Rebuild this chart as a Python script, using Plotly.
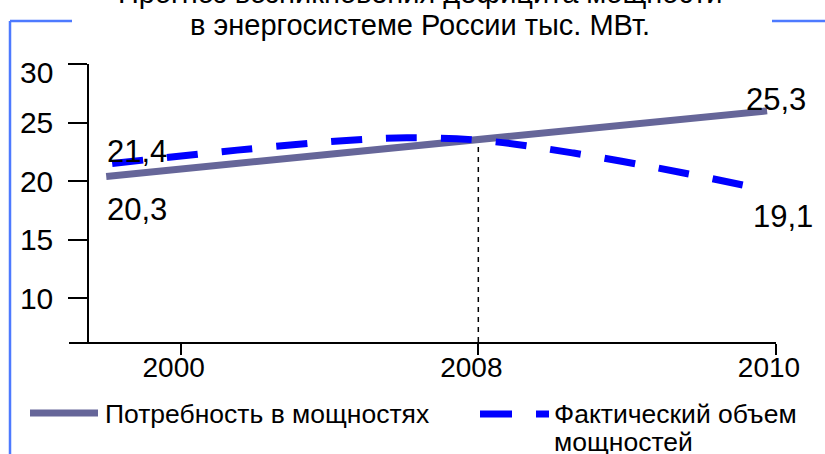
import plotly.graph_objects as go

# ---------------- data ----------------
x_ticks = [0, 1, 2]
x_tick_labels = ["2000", "2008", "2010"]
y_ticks = [10, 15, 20, 25, 30]
y_tick_labels = ["10", "15", "20", "25", ""]   # "30" drawn separately (sits lower)
y_top_label = "30"

demand_name = "Потребность в мощностях"
demand_pos = [-0.25, 1.97]
demand_val = [20.4, 26.0]

supply_name = "Фактический объем мощностей"
supply_pos = [-0.23, 0.19, 0.57, 0.76, 1.0, 1.32, 1.69, 1.92]
supply_val = [21.5, 22.65, 23.5, 23.7, 23.5, 22.4, 20.7, 19.5]

marker_pos = 1.0          # 2008
marker_val = 23.5

label_demand = ["20,3", "25,3"]
label_supply = ["21,4", "19,1"]

title_lines = ["Прогноз возникновения дефицита мощности",
               "в энергосистеме России тыс. МВт."]

# ---------------- layout helpers ----------------
W, H = 825, 454
ML, MR, MT, MB = 69, 49, 64, 112
PW, PH = W - ML - MR, H - MT - MB
Y_MIN, Y_MAX = 6.27, 30
X_MIN, X_MAX = -0.375, 2.0


def px_x(p):
    return (p - ML) / PW


def px_y(p):
    return (H - MB - p) / PH


FONT = "Liberation Sans, Arial, sans-serif"
DEMAND_COLOR = "#666699"
SUPPLY_COLOR = "#0000ff"
FRAME_COLOR = "#4d7aff"

fig = go.Figure()

fig.add_trace(go.Scatter(
    x=[marker_pos, marker_pos], y=[Y_MIN, marker_val], mode="lines",
    line=dict(color="black", width=1.5, dash="5px,5px"),
    showlegend=False, hoverinfo="skip"))

fig.add_trace(go.Scatter(
    x=demand_pos, y=demand_val, mode="lines", name=demand_name,
    line=dict(color=DEMAND_COLOR, width=7),
    showlegend=False))

fig.add_trace(go.Scatter(
    x=supply_pos, y=supply_val, mode="lines", name=supply_name,
    line=dict(color=SUPPLY_COLOR, width=7, dash="31px,24px", shape="spline"),
    showlegend=False))


def lab(**kw):
    d = dict(showarrow=False)
    d.update(kw)
    return d


annotations = []
# data labels
annotations.append(lab(x=demand_pos[0], y=demand_val[0], text=label_demand[0],
                       xanchor="left", yanchor="middle", xshift=-1, yshift=-33,
                       font=dict(size=31, color="black", family=FONT)))
annotations.append(lab(x=demand_pos[-1], y=demand_val[-1], text=label_demand[1],
                       xanchor="center", yanchor="middle", xshift=9, yshift=11,
                       font=dict(size=31, color="black", family=FONT)))
annotations.append(lab(x=supply_pos[0], y=supply_val[0], text=label_supply[0],
                       xanchor="left", yanchor="middle", xshift=-7, yshift=12,
                       font=dict(size=31, color="black", family=FONT)))
annotations.append(lab(x=supply_pos[-1], y=supply_val[-1], text=label_supply[1],
                       xanchor="center", yanchor="middle", xshift=31, yshift=-29,
                       font=dict(size=31, color="black", family=FONT)))

# top y tick label (sits below its tick in the reference)
annotations.append(lab(xref="paper", x=px_x(55), y=Y_MAX, text=y_top_label,
                       xanchor="right", yanchor="middle", yshift=-8,
                       font=dict(size=30, color="black", family=FONT)))

# title
annotations.append(lab(xref="paper", yref="paper", x=px_x(420), y=px_y(-7),
                       text=title_lines[0], xanchor="center", yanchor="middle",
                       font=dict(size=29, color="black", family=FONT)))
annotations.append(lab(xref="paper", yref="paper", x=px_x(420), y=px_y(25),
                       text=title_lines[1], xanchor="center", yanchor="middle",
                       font=dict(size=29, color="black", family=FONT)))

# legend text
annotations.append(lab(xref="paper", yref="paper", x=px_x(103), y=px_y(414),
                       text=demand_name, xanchor="left", yanchor="middle",
                       font=dict(size=26.5, color="black", family=FONT)))
sup_words = supply_name.split(" ")
annotations.append(lab(xref="paper", yref="paper", x=px_x(552), y=px_y(414),
                       text=" ".join(sup_words[:2]), xanchor="left", yanchor="middle",
                       font=dict(size=26.5, color="black", family=FONT)))
annotations.append(lab(xref="paper", yref="paper", x=px_x(552), y=px_y(442),
                       text=sup_words[2], xanchor="left", yanchor="middle",
                       font=dict(size=26.5, color="black", family=FONT)))

shapes = [
    # legend samples
    dict(type="line", xref="paper", yref="paper", x0=px_x(30), x1=px_x(98),
         y0=px_y(413), y1=px_y(413), line=dict(color=DEMAND_COLOR, width=7)),
    dict(type="line", xref="paper", yref="paper", x0=px_x(480), x1=px_x(549),
         y0=px_y(414), y1=px_y(414), line=dict(color=SUPPLY_COLOR, width=7, dash="32px,24px")),
    # blue frame
    dict(type="line", xref="paper", yref="paper", x0=px_x(10), x1=px_x(10),
         y0=px_y(21), y1=px_y(460), line=dict(color=FRAME_COLOR, width=2.5)),
    dict(type="line", xref="paper", yref="paper", x0=px_x(10), x1=px_x(72),
         y0=px_y(21), y1=px_y(21), line=dict(color=FRAME_COLOR, width=2.5)),
    dict(type="line", xref="paper", yref="paper", x0=px_x(772), x1=px_x(830),
         y0=px_y(21), y1=px_y(21), line=dict(color=FRAME_COLOR, width=2.5)),
]

fig.update_layout(
    width=W, height=H,
    margin=dict(l=ML, r=MR, t=MT, b=MB, pad=0),
    paper_bgcolor="white", plot_bgcolor="white",
    font=dict(family=FONT, color="black"),
    showlegend=False,
    annotations=annotations,
    shapes=shapes,
    xaxis=dict(range=[X_MIN, X_MAX], tickmode="array", tickvals=x_ticks,
               ticktext=x_tick_labels, showgrid=False, zeroline=False,
               showline=True, linecolor="black", linewidth=2,
               ticks="outside", ticklen=11, tickwidth=2, tickcolor="black",
               ticklabelstandoff=-12, ticklabelshift=-7,
               tickfont=dict(size=28, family=FONT, color="black")),
    yaxis=dict(range=[Y_MIN, Y_MAX], tickmode="array", tickvals=y_ticks,
               ticktext=y_tick_labels,
               showgrid=False, zeroline=False, anchor="free",
               position=px_x(88.3),
               showline=True, linecolor="black", linewidth=2,
               ticks="outside", ticklen=19, tickwidth=2, tickcolor="black",
               ticklabelstandoff=9,
               tickfont=dict(size=30, family=FONT, color="black")),
)

fig.write_html("out.html",
               config={"displayModeBar": False},
               post_script="document.body.style.margin='0';document.body.style.padding='0';")
